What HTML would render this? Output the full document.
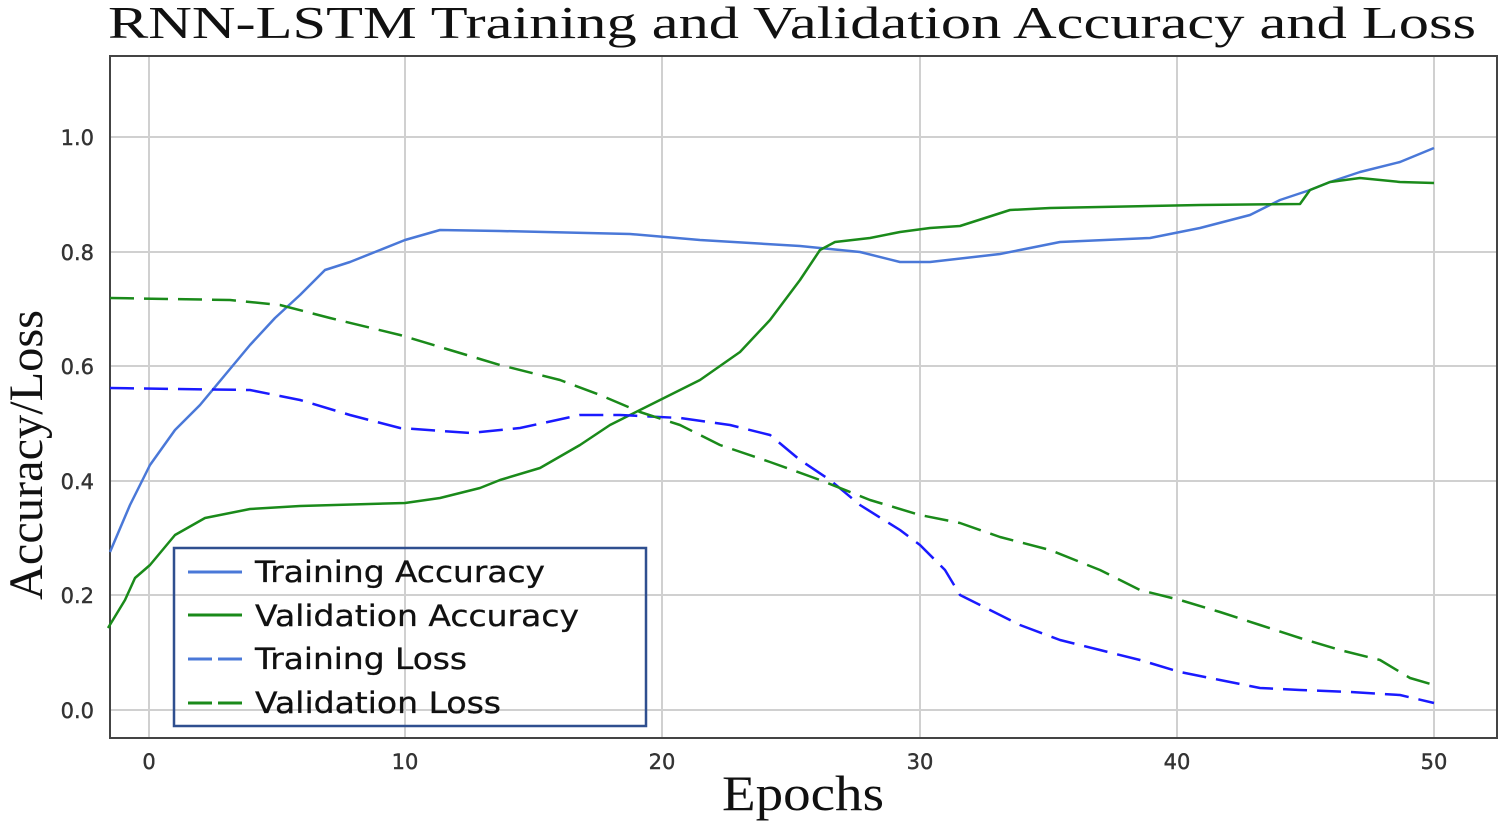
<!DOCTYPE html>
<html><head><meta charset="utf-8"><style>
html,body{margin:0;padding:0;background:#fff;}
svg{display:block;}
</style></head><body>
<svg width="1505" height="826" xmlns="http://www.w3.org/2000/svg">
<rect width="1505" height="826" fill="#fff"/>
<text x="792" y="38" text-anchor="middle" font-family="Liberation Serif, serif" font-size="46" fill="#111" textLength="1368" lengthAdjust="spacingAndGlyphs">RNN-LSTM Training and Validation Accuracy  and Loss</text>
<g stroke="#d0d0d0" stroke-width="2">
<line x1="149" y1="56" x2="149" y2="738"/><line x1="405" y1="56" x2="405" y2="738"/><line x1="662" y1="56" x2="662" y2="738"/><line x1="920" y1="56" x2="920" y2="738"/><line x1="1177" y1="56" x2="1177" y2="738"/><line x1="1434" y1="56" x2="1434" y2="738"/>
<line x1="110" y1="137" x2="1497" y2="137"/><line x1="110" y1="252" x2="1497" y2="252"/><line x1="110" y1="366" x2="1497" y2="366"/><line x1="110" y1="481" x2="1497" y2="481"/><line x1="110" y1="595" x2="1497" y2="595"/><line x1="110" y1="710" x2="1497" y2="710"/>
</g>
<rect x="110" y="56" width="1387" height="682" fill="none" stroke="#444" stroke-width="2"/>
<g font-family="DejaVu Sans, sans-serif" font-size="21" fill="#333" text-anchor="end" stroke="#333" stroke-width="0.4">
<text x="94" y="145">1.0</text><text x="94" y="260">0.8</text><text x="94" y="374">0.6</text><text x="94" y="489">0.4</text><text x="94" y="603">0.2</text><text x="94" y="718">0.0</text>
</g>
<g font-family="DejaVu Sans, sans-serif" font-size="21" fill="#333" text-anchor="middle" stroke="#333" stroke-width="0.4">
<text x="149" y="769">0</text><text x="405" y="769">10</text><text x="662" y="769">20</text><text x="920" y="769">30</text><text x="1177" y="769">40</text><text x="1434" y="769">50</text>
</g>
<text x="803" y="810" text-anchor="middle" font-family="Liberation Serif, serif" font-size="50" fill="#111" textLength="162" lengthAdjust="spacingAndGlyphs">Epochs</text>
<text transform="translate(42,455) rotate(-90)" text-anchor="middle" font-family="Liberation Serif, serif" font-size="48" fill="#111" textLength="290" lengthAdjust="spacingAndGlyphs">Accuracy/Loss</text>
<g fill="none" stroke-width="2.5" stroke-linejoin="round">
<polyline stroke="#4a78d8" points="110,552 130,505 150,465 175,430 200,405 225,375 250,345 275,318 300,295 325,270 350,262 380,250 405,240 440,230 500,231 630,234 700,240 800,246 860,252 900,262 930,262 1000,254 1060,242 1150,238 1200,228 1250,215 1280,200 1310,190 1330,182 1360,172 1400,162 1434,148"/>
<polyline stroke="#1a8a1a" points="108,628 125,600 135,578 150,565 175,535 205,518 250,509 300,506 405,503 440,498 480,488 500,480 540,468 580,445 610,425 640,410 660,400 700,380 740,352 770,320 800,280 820,250 835,242 870,238 900,232 930,228 960,226 985,218 1010,210 1050,208 1100,207 1200,205 1300,204 1310,190 1330,182 1360,178 1400,182 1434,183"/>
<polyline stroke="#1a1aff" stroke-dasharray="24,10" points="110,388 250,390 300,400 350,415 400,428 470,433 520,428 580,415 620,415 680,418 730,425 770,435 800,460 830,480 860,505 900,530 920,545 945,570 960,595 990,610 1020,625 1060,640 1100,650 1140,660 1180,672 1220,680 1260,688 1300,690 1350,692 1400,695 1434,703"/>
<polyline stroke="#1a8a1a" stroke-dasharray="24,10" points="110,298 230,300 280,305 330,318 400,335 450,350 500,365 560,380 600,395 640,412 680,425 720,445 770,462 820,480 870,500 920,515 960,523 1000,537 1050,550 1100,570 1140,590 1180,600 1220,612 1260,625 1300,638 1340,650 1380,660 1410,678 1434,685"/>
</g>
<rect x="174" y="548" width="472" height="178" fill="none" stroke="#2f4f8f" stroke-width="2.5"/>
<g stroke-width="3">
<line x1="188" y1="572" x2="242" y2="572" stroke="#4a78d8"/>
<line x1="188" y1="615" x2="242" y2="615" stroke="#1a8a1a"/>
<line x1="188" y1="659" x2="212" y2="659" stroke="#4a78d8"/><line x1="218" y1="659" x2="242" y2="659" stroke="#4a78d8"/>
<line x1="188" y1="703" x2="212" y2="703" stroke="#1a8a1a"/><line x1="218" y1="703" x2="242" y2="703" stroke="#1a8a1a"/>
</g>
<g font-family="DejaVu Sans, sans-serif" font-size="29" fill="#111" stroke="#111" stroke-width="0.3" lengthAdjust="spacingAndGlyphs">
<text x="255" y="582" textLength="290" lengthAdjust="spacingAndGlyphs">Training Accuracy</text>
<text x="255" y="626" textLength="324" lengthAdjust="spacingAndGlyphs">Validation Accuracy</text>
<text x="255" y="669" textLength="212" lengthAdjust="spacingAndGlyphs">Training Loss</text>
<text x="255" y="713" textLength="246" lengthAdjust="spacingAndGlyphs">Validation Loss</text>
</g>
</svg>
</body></html>
